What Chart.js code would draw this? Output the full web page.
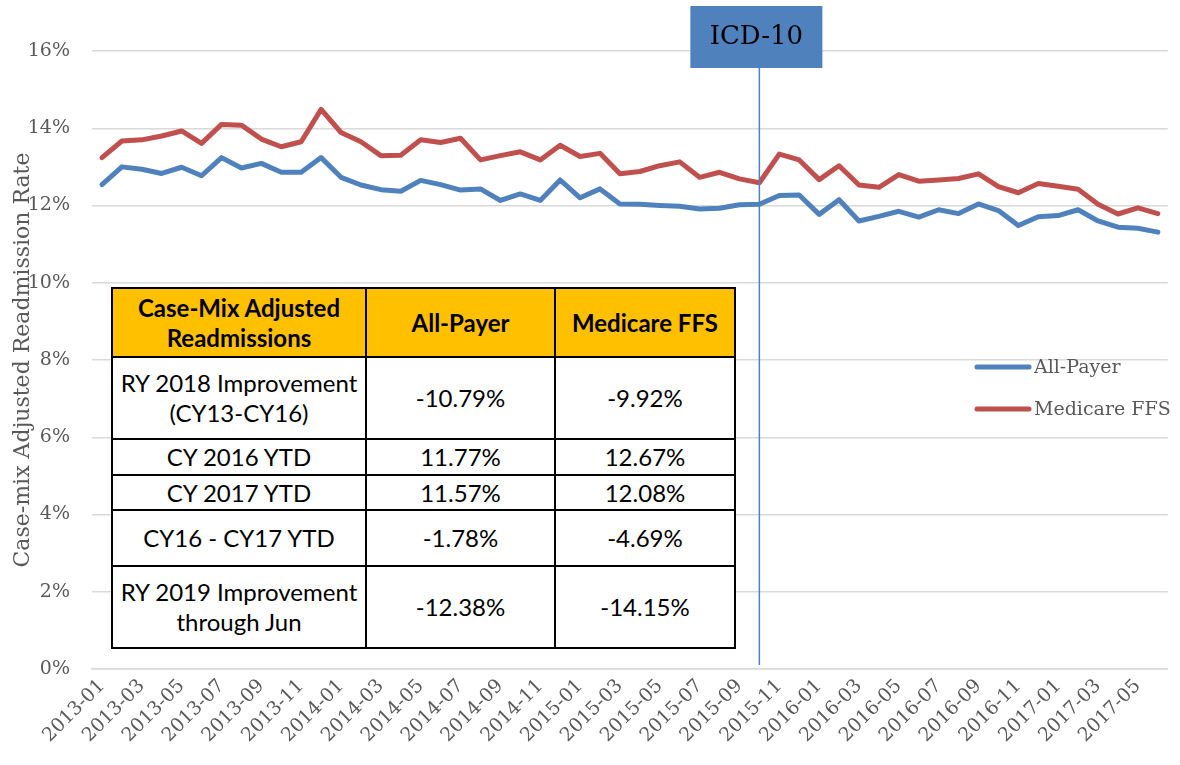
<!DOCTYPE html>
<html>
<head>
<meta charset="utf-8">
<script src="https://cdn.jsdelivr.net/npm/chart.js@4.4.1/dist/chart.umd.min.js"></script>
<style>
  html, body { margin: 0; padding: 0; background: #fff; }
  #wrap { position: relative; width: 1180px; height: 765px; overflow: hidden; }
  #c { position: absolute; left: 0; top: 0; }
  #tbl {
    position: absolute; left: 111px; top: 287px;
    border-collapse: collapse; background: #fff;
    font-family: Lato, "Open Sans", sans-serif; font-size: 24px; color: #000;
    line-height: 30px; table-layout: fixed;
  }
  #tbl td, #tbl th { border: 2px solid #000; text-align: center; vertical-align: middle; padding: 0 2px; }
  #tbl th { background: #FFC000; font-weight: bold; }
</style>
</head>
<body>
<div id="wrap">
  <canvas id="c" width="1180" height="765"></canvas>
  <table id="tbl"></table>
</div>
<script>
const months = [
  '2013-01','2013-02','2013-03','2013-04','2013-05','2013-06','2013-07','2013-08','2013-09','2013-10','2013-11','2013-12',
  '2014-01','2014-02','2014-03','2014-04','2014-05','2014-06','2014-07','2014-08','2014-09','2014-10','2014-11','2014-12',
  '2015-01','2015-02','2015-03','2015-04','2015-05','2015-06','2015-07','2015-08','2015-09','2015-10','2015-11','2015-12',
  '2016-01','2016-02','2016-03','2016-04','2016-05','2016-06','2016-07','2016-08','2016-09','2016-10','2016-11','2016-12',
  '2017-01','2017-02','2017-03','2017-04','2017-05','2017-06'
];
const allPayer = [
  12.54,13.00,12.94,12.83,12.99,12.77,13.24,12.97,13.09,12.86,12.86,13.24,
  12.73,12.53,12.41,12.37,12.65,12.54,12.40,12.43,12.13,12.30,12.13,12.66,
  12.20,12.43,12.04,12.03,12.00,11.98,11.91,11.93,12.02,12.03,12.26,12.27,
  11.77,12.15,11.60,11.72,11.85,11.70,11.89,11.79,12.04,11.87,11.48,11.71,
  11.74,11.89,11.60,11.44,11.41,11.31
];
const medicareFFS = [
  13.24,13.67,13.70,13.80,13.93,13.61,14.10,14.08,13.72,13.52,13.65,14.49,
  13.89,13.65,13.29,13.30,13.70,13.63,13.74,13.18,13.29,13.39,13.18,13.56,
  13.27,13.35,12.82,12.88,13.03,13.13,12.73,12.86,12.69,12.59,13.33,13.18,
  12.67,13.03,12.53,12.47,12.80,12.63,12.66,12.70,12.82,12.49,12.33,12.57,
  12.50,12.42,12.03,11.78,11.94,11.79
];
const seriesNames = ['All-Payer', 'Medicare FFS'];
const yTicks = [0, 2, 4, 6, 8, 10, 12, 14, 16];
const labelStep = 2;
const markerMonth = '2015-10';
const markerText = 'ICD-10';
const yTitle = 'Case-mix Adjusted Readmission Rate';

const tableHeader = ['Case-Mix Adjusted<br>Readmissions', 'All-Payer', 'Medicare FFS'];
const tableRows = [
  ['RY 2018 Improvement<br>(CY13-CY16)', '-10.79%', '-9.92%'],
  ['CY 2016 YTD', '11.77%', '12.67%'],
  ['CY 2017 YTD', '11.57%', '12.08%'],
  ['CY16 - CY17 YTD', '-1.78%', '-4.69%'],
  ['RY 2019 Improvement<br>through Jun', '-12.38%', '-14.15%']
];

// build table
const colW = [254, 189, 180];
const rowH = [69, 82, 36, 35, 56, 82];
(function () {
  const t = document.getElementById('tbl');
  let h = '<colgroup>' + colW.map(w => '<col style="width:' + w + 'px">').join('') + '</colgroup>';
  h += '<tr style="height:' + rowH[0] + 'px">' + tableHeader.map(s => '<th>' + s + '</th>').join('') + '</tr>';
  tableRows.forEach((r, i) => {
    h += '<tr style="height:' + rowH[i + 1] + 'px">' + r.map(s => '<td>' + s + '</td>').join('') + '</tr>';
  });
  t.innerHTML = h;
})();

const BLUE = '#4F81BD', RED = '#C0504D', GREY = '#595959';
const SERIF = '"DejaVu Serif", "Liberation Serif", serif';

const markerPlugin = {
  id: 'marker',
  afterDatasetsDraw(chart) {
    const ctx = chart.ctx;
    const x = chart.scales.x.getPixelForValue(months.indexOf(markerMonth));
    const bottom = chart.chartArea.bottom - 4;
    ctx.save();
    ctx.strokeStyle = BLUE;
    ctx.lineWidth = 1.5;
    ctx.beginPath();
    ctx.moveTo(x, 68);
    ctx.lineTo(x, bottom);
    ctx.stroke();
    ctx.fillStyle = BLUE;
    ctx.fillRect(x - 69, 6, 132, 62);
    ctx.fillStyle = '#000';
    ctx.font = '26px ' + SERIF;
    ctx.textAlign = 'center';
    ctx.textBaseline = 'middle';
    ctx.fillText(markerText, x - 3, 37);
    ctx.restore();
  }
};

const legendPlugin = {
  id: 'customLegend',
  afterDraw(chart) {
    const ctx = chart.ctx;
    const ys = [367, 409];
    ctx.save();
    chart.data.datasets.forEach((ds, i) => {
      ctx.strokeStyle = ds.borderColor;
      ctx.lineWidth = 5;
      ctx.lineCap = 'round';
      ctx.beginPath();
      ctx.moveTo(977, ys[i]);
      ctx.lineTo(1029, ys[i]);
      ctx.stroke();
      ctx.fillStyle = GREY;
      ctx.font = '19px ' + SERIF;
      ctx.textAlign = 'left';
      ctx.textBaseline = 'middle';
      ctx.fillText(ds.label, 1034, ys[i] + 1);
    });
    ctx.restore();
  }
};

new Chart(document.getElementById('c'), {
  type: 'line',
  data: {
    labels: months,
    datasets: [
      { label: seriesNames[0], data: allPayer, borderColor: BLUE, backgroundColor: BLUE, borderWidth: 5, pointRadius: 0, tension: 0, borderJoinStyle: 'round', borderCapStyle: 'round' },
      { label: seriesNames[1], data: medicareFFS, borderColor: RED, backgroundColor: RED, borderWidth: 5, pointRadius: 0, tension: 0, borderJoinStyle: 'round', borderCapStyle: 'round' }
    ]
  },
  options: {
    responsive: false,
    animation: false,
    layout: { padding: { top: 51, right: 8, left: 0, bottom: 0 } },
    plugins: { legend: { display: false }, tooltip: { enabled: false } },
    scales: {
      x: {
        type: 'category',
        offset: true,
        grid: { display: false, drawTicks: false },
        border: { display: true, color: '#D9D9D9', width: 1.5 },
        ticks: {
          autoSkip: false, maxRotation: 45, minRotation: 45, padding: 6,
          color: GREY, font: { family: SERIF, size: 19 },
          callback: (v, i) => (i % labelStep === 0 ? months[i] : '')
        },
        afterFit: s => { s.height = 96; }
      },
      y: {
        min: 0, max: 16,
        afterBuildTicks: s => { s.ticks = yTicks.map(v => ({ value: v })); },
        grid: { color: '#D9D9D9', lineWidth: 1.5, drawTicks: false },
        border: { display: false },
        ticks: { padding: 22, color: GREY, font: { family: SERIF, size: 19 }, callback: v => v + '%' },
        title: { display: true, text: yTitle, color: GREY, font: { family: SERIF, size: 22 }, padding: { top: 10, bottom: 0 } },
        afterFit: s => { s.width = 92; }
      }
    }
  },
  plugins: [markerPlugin, legendPlugin]
});
</script>
</body>
</html>
